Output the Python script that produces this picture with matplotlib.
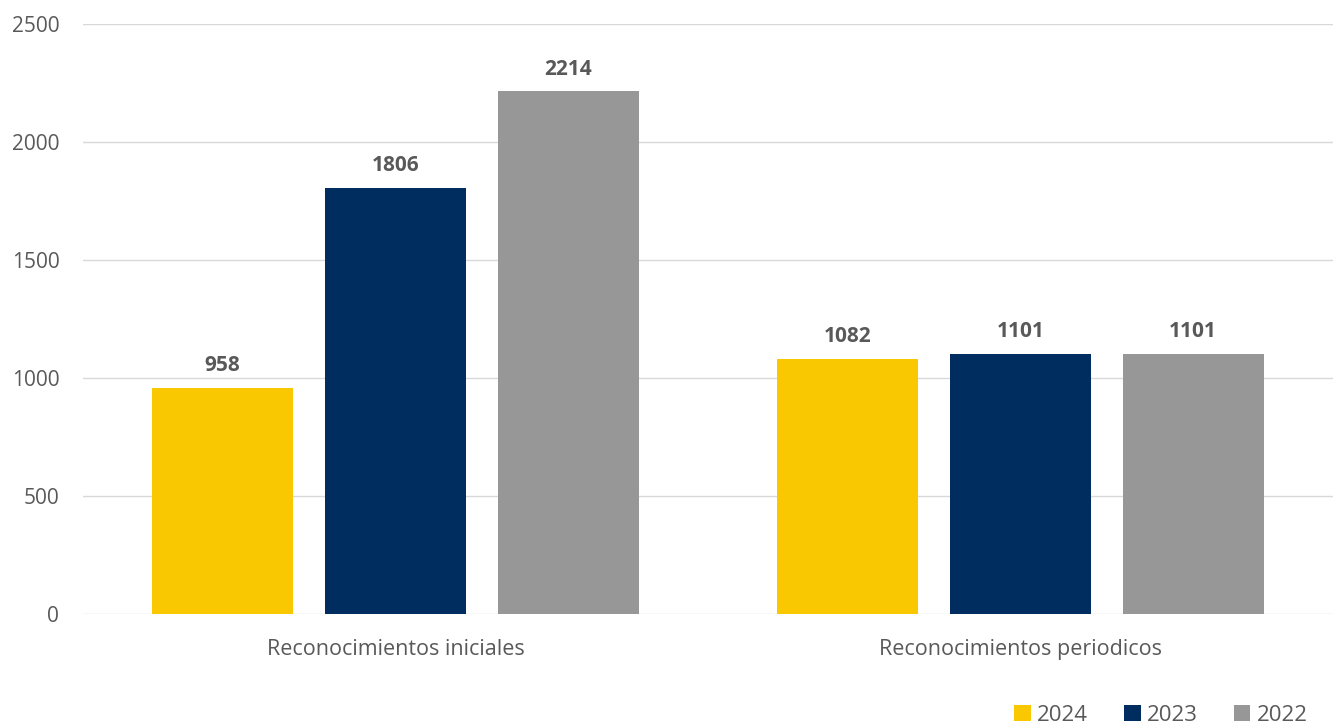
import matplotlib
matplotlib.use("Agg")
import matplotlib.pyplot as plt
import numpy as np
from matplotlib.patches import Patch

categories = ["Reconocimientos iniciales", "Reconocimientos periodicos"]
series_names = ["2024", "2023", "2022"]
values_2024 = [958, 1082]
values_2023 = [1806, 1101]
values_2022 = [2214, 1101]
yticks = [0, 500, 1000, 1500, 2000, 2500]

colors = ["#FAC800", "#002D5F", "#979797"]
text_color = "#595959"

plt.rcParams['font.family'] = ['Open Sans', 'DejaVu Sans']

fig = plt.figure(figsize=(13.38, 7.24), dpi=100)
ax = fig.add_axes([0.062, 0.152, 0.934, 0.815])

x = np.arange(len(categories))
width = 0.2256
step = 0.2768
all_vals = [values_2024, values_2023, values_2022]
for i, (vals, name, c) in enumerate(zip(all_vals, series_names, colors)):
    pos = x + (i - 1) * step
    bars = ax.bar(pos, vals, width=width, color=c, label=name, zorder=3)
    for b, v in zip(bars, vals):
        ax.text(b.get_x() + b.get_width() / 2, v + 50, str(v), ha='center', va='bottom',
                fontsize=15, fontweight='bold', color=text_color)

ax.set_xlim(-0.5, 1.5)
ax.set_ylim(0, 2500)
ax.set_yticks(yticks)
ax.set_yticklabels([str(t) for t in yticks], fontsize=15, color=text_color)
ax.set_xticks(x)
ax.set_xticklabels(categories, fontsize=15.5, color=text_color)
ax.tick_params(axis='both', length=0)
ax.tick_params(axis='x', pad=18)
ax.tick_params(axis='y', pad=17)
ax.grid(axis='y', color='#D9D9D9', linewidth=1, zorder=0)
for s in ax.spines.values():
    s.set_visible(False)

handles = [Patch(facecolor=c, label=n) for c, n in zip(colors, series_names)]
fig.legend(handles=handles, loc='lower right', bbox_to_anchor=(0.9925, -0.03), ncol=3,
           frameon=False, fontsize=16, handlelength=0.75, handleheight=0.75,
           handletextpad=0.3, columnspacing=1.6, labelcolor=text_color)

fig.savefig("out.png", dpi=100)
